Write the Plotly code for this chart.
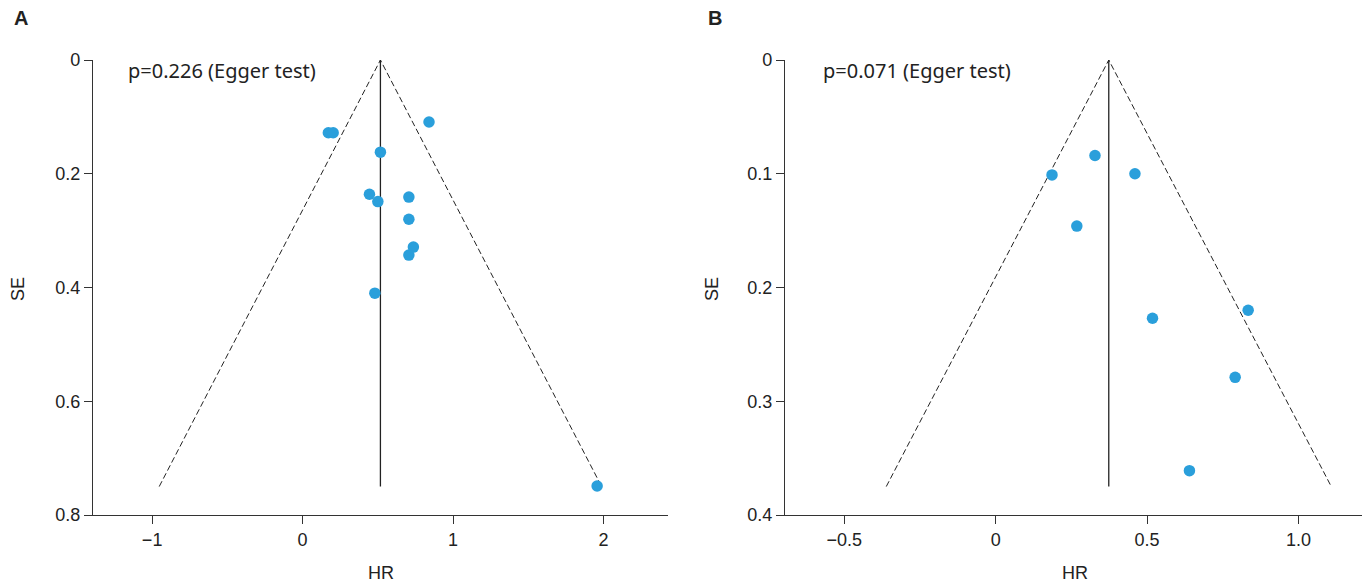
import plotly.graph_objects as go

# ---- Data ----
a_hr = [0.84, 0.171, 0.203, 0.517, 0.444, 0.50, 0.706, 0.706, 0.736, 0.706, 0.48, 1.957]
a_se = [0.109, 0.128, 0.128, 0.162, 0.236, 0.249, 0.241, 0.280, 0.329, 0.343, 0.410, 0.749]
a_pooled = 0.517
a_se_max = 0.75
a_label = "p=0.226 (Egger test)"

b_hr = [0.328, 0.186, 0.46, 0.268, 0.834, 0.518, 0.791, 0.64]
b_se = [0.084, 0.101, 0.100, 0.146, 0.220, 0.227, 0.279, 0.361]
b_pooled = 0.3735
b_se_max = 0.375
b_label = "p=0.071 (Egger test)"

a_xticks = [-1, 0, 1, 2]
a_xticktext = ["\u22121", "0", "1", "2"]
a_yticks = [0, 0.2, 0.4, 0.6, 0.8]
a_yticktext = ["0", "0.2", "0.4", "0.6", "0.8"]
b_xticks = [-0.5, 0, 0.5, 1.0]
b_xticktext = ["\u22120.5", "0", "0.5", "1.0"]
b_yticks = [0, 0.1, 0.2, 0.3, 0.4]
b_yticktext = ["0", "0.1", "0.2", "0.3", "0.4"]

W, H = 1367, 585
TICKFONT = "Liberation Sans, Arial, sans-serif"
TEXTFONT = "Noto Sans, Open Sans, sans-serif"
DOT = "#2a9fdb"
AX = "#333333"

fig = go.Figure()

def add_panel(hr, se, pooled, se_max, xa, ya):
    z = 1.96
    fig.add_trace(go.Scatter(
        x=[pooled - z * se_max, pooled, pooled + z * se_max],
        y=[se_max, 0, se_max], mode="lines",
        line=dict(color="#222222", width=1, dash="6px,3px"),
        xaxis=xa, yaxis=ya, showlegend=False, hoverinfo="skip"))
    fig.add_trace(go.Scatter(
        x=[pooled, pooled], y=[0, se_max], mode="lines",
        line=dict(color="#222222", width=1.3),
        xaxis=xa, yaxis=ya, showlegend=False, hoverinfo="skip"))
    fig.add_trace(go.Scatter(
        x=hr, y=se, mode="markers",
        marker=dict(color=DOT, size=11.5, line=dict(width=0)),
        xaxis=xa, yaxis=ya, showlegend=False))

add_panel(a_hr, a_se, a_pooled, a_se_max, "x", "y")
add_panel(b_hr, b_se, b_pooled, b_se_max, "x2", "y2")

def px(x):
    return x / W

def py(y):
    return 1 - y / H

common_axis = dict(showline=True, linecolor=AX, linewidth=1.3, ticks="outside",
                   ticklen=8, tickcolor=AX, tickwidth=1.3, showgrid=False,
                   zeroline=False, automargin=False,
                   tickfont=dict(family=TICKFONT, size=18, color="#222222"))

ydom = [py(515), py(60)]
fig.update_layout(
    width=W, height=H, margin=dict(l=0, r=0, t=0, b=0, autoexpand=False),
    paper_bgcolor="white", plot_bgcolor="white",
    xaxis=dict(domain=[px(93), px(668)], range=[-1.393, 2.428], anchor="y",
               tickvals=a_xticks, ticktext=a_xticktext, **common_axis),
    yaxis=dict(domain=ydom, range=[0.8, 0], anchor="x",
               tickvals=a_yticks, ticktext=a_yticktext, **common_axis),
    xaxis2=dict(domain=[px(785), px(1362)], range=[-0.696, 1.21], anchor="y2",
                tickvals=b_xticks, ticktext=b_xticktext, **common_axis),
    yaxis2=dict(domain=ydom, range=[0.4, 0], anchor="x2",
                tickvals=b_yticks, ticktext=b_yticktext, **common_axis),
)

def ann(text, x, y, size, family, bold=False, angle=0, xanchor="center"):
    fig.add_annotation(text=("<b>%s</b>" % text) if bold else text,
                       x=px(x), y=py(y), xref="paper", yref="paper",
                       showarrow=False, xanchor=xanchor, yanchor="middle",
                       textangle=angle,
                       font=dict(family=family, size=size, color="#222222"))

ann("A", 12, 18, 20, TICKFONT, bold=True, xanchor="left")
ann("B", 706, 18, 20, TICKFONT, bold=True, xanchor="left")
ann(a_label, 126, 70, 20, TEXTFONT, xanchor="left")
ann(b_label, 821, 70, 20, TEXTFONT, xanchor="left")
ann("SE", 18, 289, 18, TICKFONT, angle=-90)
ann("SE", 712, 289, 18, TICKFONT, angle=-90)
ann("HR", 381, 573, 18, TICKFONT)
ann("HR", 1075, 573, 18, TICKFONT)

fig.write_html("out.html", config={"displayModeBar": False},
               post_script="document.body.style.margin='0';document.body.style.overflow='hidden';")
